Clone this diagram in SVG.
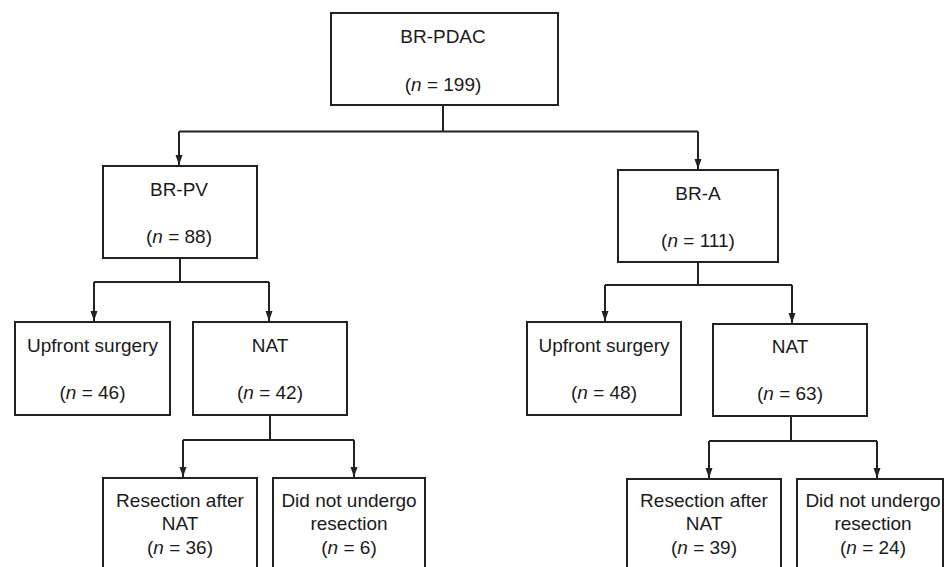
<svg xmlns="http://www.w3.org/2000/svg" width="945" height="567" viewBox="0 0 945 567">
<style>
.box{fill:#fff;stroke:#222;stroke-width:2}
.t{font-family:"Liberation Sans",Arial,sans-serif;font-size:19px;fill:#1a1a1a;text-anchor:middle}
.c{fill:none;stroke:#222;stroke-width:2}
.i{font-style:italic}
</style>
<defs>
<marker id="ah" markerUnits="userSpaceOnUse" markerWidth="10" markerHeight="10" viewBox="0 0 10 10" refX="10" refY="5" orient="auto">
<path d="M0,1.5 L10,5 L0,8.5 Z" fill="#222"/>
</marker>
</defs>
<rect width="945" height="567" fill="#fff"/>
<g id="connectors">
<path class="c" d="M443,105 V131.5"/>
<path class="c" d="M179,131.5 H698"/>
<path class="c" d="M179,131.5 V165" marker-end="url(#ah)"/>
<path class="c" d="M698,131.5 V169" marker-end="url(#ah)"/>
<path class="c" d="M180,258 V282"/>
<path class="c" d="M94,282 H269"/>
<path class="c" d="M94,282 V321" marker-end="url(#ah)"/>
<path class="c" d="M269,282 V321" marker-end="url(#ah)"/>
<path class="c" d="M698,262 V285"/>
<path class="c" d="M605,285 H792"/>
<path class="c" d="M605,285 V321" marker-end="url(#ah)"/>
<path class="c" d="M792,285 V323" marker-end="url(#ah)"/>
<path class="c" d="M270,415 V440"/>
<path class="c" d="M183,440 H354"/>
<path class="c" d="M183,440 V477" marker-end="url(#ah)"/>
<path class="c" d="M354,440 V477" marker-end="url(#ah)"/>
<path class="c" d="M791,416 V441"/>
<path class="c" d="M709,441 H877"/>
<path class="c" d="M709,441 V478" marker-end="url(#ah)"/>
<path class="c" d="M877,441 V478" marker-end="url(#ah)"/>
</g>
<g id="brpdac">
<rect class="box" x="331" y="13" width="227" height="92"/>
<text class="t" x="443" y="43">BR-PDAC</text>
<text class="t" x="443" y="91">(<tspan class="i">n</tspan> = 199)</text>
</g>
<g id="brpv">
<rect class="box" x="103" y="166" width="154" height="92"/>
<text class="t" x="179" y="196">BR-PV</text>
<text class="t" x="179" y="243">(<tspan class="i">n</tspan> = 88)</text>
</g>
<g id="bra">
<rect class="box" x="618" y="170" width="160" height="92"/>
<text class="t" x="698" y="200">BR-A</text>
<text class="t" x="698" y="247">(<tspan class="i">n</tspan> = 111)</text>
</g>
<g id="upfront-pv">
<rect class="box" x="15" y="322" width="155" height="93"/>
<text class="t" x="92.5" y="352">Upfront surgery</text>
<text class="t" x="92.5" y="399">(<tspan class="i">n</tspan> = 46)</text>
</g>
<g id="nat-pv">
<rect class="box" x="193" y="322" width="154" height="93"/>
<text class="t" x="270" y="352">NAT</text>
<text class="t" x="270" y="399">(<tspan class="i">n</tspan> = 42)</text>
</g>
<g id="upfront-a">
<rect class="box" x="527" y="322" width="154" height="93"/>
<text class="t" x="604" y="352">Upfront surgery</text>
<text class="t" x="604" y="399">(<tspan class="i">n</tspan> = 48)</text>
</g>
<g id="nat-a">
<rect class="box" x="713" y="324" width="154" height="92"/>
<text class="t" x="790" y="353">NAT</text>
<text class="t" x="790" y="400">(<tspan class="i">n</tspan> = 63)</text>
</g>
<g id="resection-pv">
<rect class="box" x="103" y="478" width="154" height="100"/>
<text class="t" x="180" y="507">Resection after</text>
<text class="t" x="180" y="530">NAT</text>
<text class="t" x="180" y="554">(<tspan class="i">n</tspan> = 36)</text>
</g>
<g id="noresection-pv">
<rect class="box" x="273" y="478" width="152" height="100"/>
<text class="t" x="349" y="507">Did not undergo</text>
<text class="t" x="349" y="530">resection</text>
<text class="t" x="349" y="554">(<tspan class="i">n</tspan> = 6)</text>
</g>
<g id="resection-a">
<rect class="box" x="627" y="479" width="154" height="100"/>
<text class="t" x="704" y="507">Resection after</text>
<text class="t" x="704" y="530">NAT</text>
<text class="t" x="704" y="554">(<tspan class="i">n</tspan> = 39)</text>
</g>
<g id="noresection-a">
<rect class="box" x="797" y="479" width="146" height="100"/>
<text class="t" x="873" y="507">Did not undergo</text>
<text class="t" x="873" y="530">resection</text>
<text class="t" x="873" y="554">(<tspan class="i">n</tspan> = 24)</text>
</g>
</svg>
